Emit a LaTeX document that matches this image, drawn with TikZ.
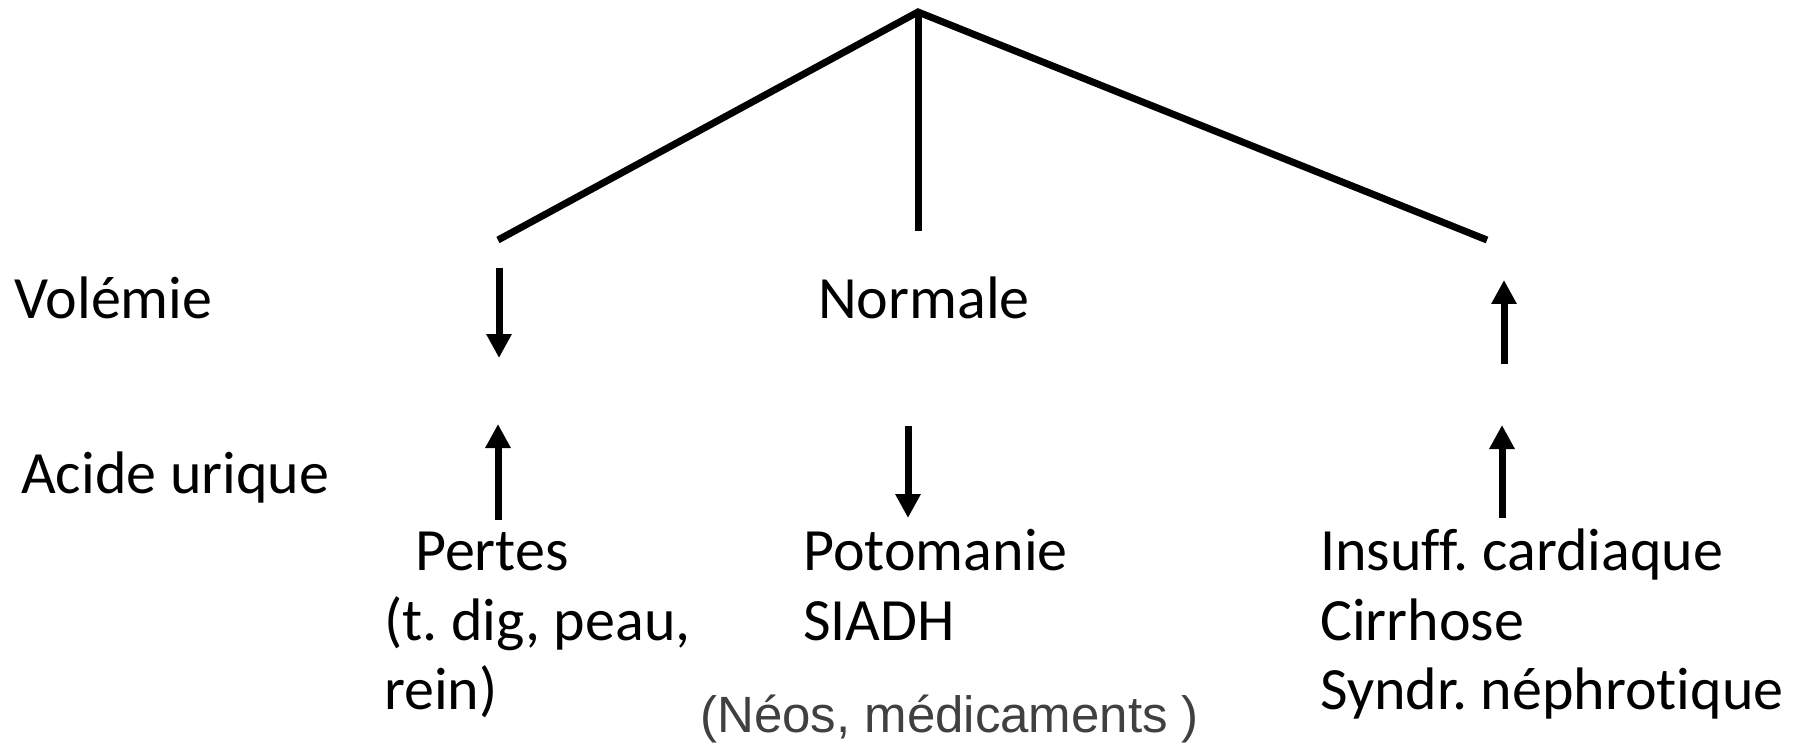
\documentclass[tikz,border=0pt]{standalone}
\usepackage{fontspec}
\setmainfont{Carlito}[Ligatures=NoCommon]
\newfontfamily\arialfont{Liberation Sans}
\usetikzlibrary{arrows.meta}
\definecolor{notegray}{HTML}{404040}
\frenchspacing

\begin{document}
\begin{tikzpicture}[x=1pt,y=-1pt,
	branch/.style={line width=7pt},
	vol/.style={line width=7pt,-{Triangle[length=24pt,width=24pt]}},
	lbl/.style={anchor=base west,inner sep=0pt,font=\fontsize{60}{69}\selectfont}]
	\useasboundingbox[fill=white] (0,0) rectangle (1807,743);
	% tree
	\coordinate (top) at (918,12);
	\coordinate (lend) at (498,240);
	\coordinate (mend) at (918,231);
	\coordinate (rend) at (1487,240);
	\draw[branch] (lend) -- (top) -- (rend);
	\draw[branch] (top) -- (mend);
	% rows
	\node[lbl] (volemie) at (14,319) {Volémie};
	\node[lbl] (normale) at (818,319) {Normale};
	\node[lbl] (urique) at (21,493) {Acide urique};
	% arrows
	\coordinate (a1) at (499,268);
	\coordinate (b1) at (499,358);
	\coordinate (a2) at (1504,364);
	\coordinate (b2) at (1504,280);
	\coordinate (a3) at (498,520);
	\coordinate (b3) at (498,424);
	\coordinate (a4) at (908,426);
	\coordinate (b4) at (908,518);
	\coordinate (a5) at (1502,518);
	\coordinate (b5) at (1502,425);
	\draw[vol] (a1) -- (b1);
	\draw[vol] (a2) -- (b2);
	\draw[vol] (a3) -- (b3);
	\draw[vol] (a4) -- (b4);
	\draw[vol] (a5) -- (b5);
	% causes
	\node[lbl] (pertes) at (415,570) {Pertes};
	\node[lbl] (tdig) at (384,640) {(t. dig, peau,};
	\node[lbl] (rein) at (384,709) {rein)};
	\node[lbl] (poto) at (803,570) {Potomanie};
	\node[lbl] (siadh) at (803,640) {SIADH};
	\node[anchor=base west,inner sep=0pt,text=notegray,font=\arialfont\fontsize{51}{60}\selectfont] (neos) at (700,732) {(Néos, médicaments )};
	\node[lbl] (insuff) at (1320,570) {Insuff. cardiaque};
	\node[lbl] (cirrh) at (1320,640) {Cirrhose};
	\node[lbl] (syndr) at (1320,709) {Syndr. néphrotique};
\end{tikzpicture}
\end{document}
